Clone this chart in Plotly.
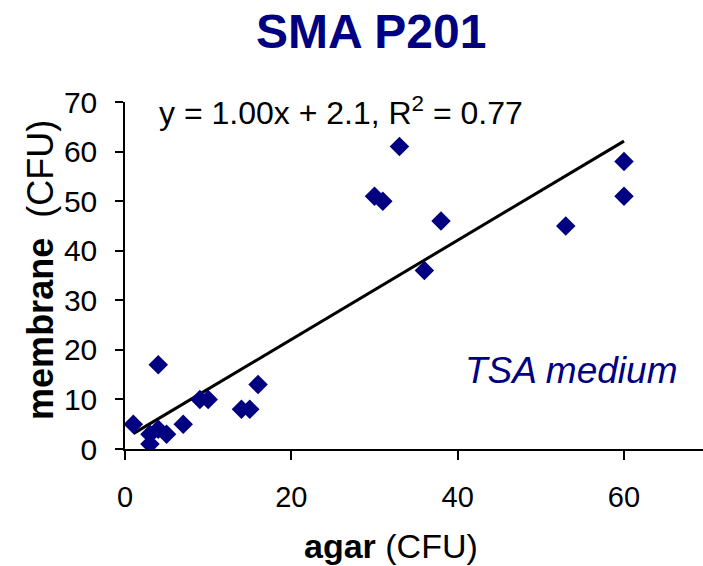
import plotly.graph_objects as go

# Colony counts on agar vs. membrane (CFU), TSA medium
agar_cfu = [1, 3, 3, 4, 5, 4, 7, 9, 10, 14, 15, 16, 30, 31, 33, 36, 38, 53, 60, 60]
membrane_cfu = [5, 1, 3, 4, 3, 17, 5, 10, 10, 8, 8, 13, 51, 50, 61, 36, 46, 45, 58, 51]

# Linear trendline as reported on the chart
slope = 1.00
intercept = 2.1
r_squared = 0.77

x_ticks = [0, 20, 40, 60]
y_ticks = [0, 10, 20, 30, 40, 50, 60, 70]

NAVY = "#000080"
FONT = "Liberation Sans, Arial, sans-serif"

x_min, x_max = min(agar_cfu), max(agar_cfu)
trend_x = [x_min, x_max]
trend_y = [slope * v + intercept for v in trend_x]

fig = go.Figure()
fig.add_trace(go.Scatter(
    x=trend_x, y=trend_y, mode="lines",
    line=dict(color="black", width=3),
    hoverinfo="skip", showlegend=False,
))
fig.add_trace(go.Scatter(
    x=agar_cfu, y=membrane_cfu, mode="markers",
    marker=dict(symbol="diamond", size=15, color=NAVY, line=dict(width=0)),
    showlegend=False,
))

fig.update_layout(
    width=703, height=566,
    margin=dict(l=125, r=0, t=102, b=117, pad=0),
    paper_bgcolor="white", plot_bgcolor="white",
    font=dict(family=FONT, color="black"),
    title=dict(
        text="<b>SMA P201</b>",
        font=dict(size=48, color=NAVY, family=FONT),
        x=0.528, xanchor="center", xref="container",
        y=0.945, yanchor="middle", yref="container",
    ),
    xaxis=dict(
        range=[0, 69.5], tickvals=x_ticks, ticktext=[str(v) for v in x_ticks],
        showgrid=False, zeroline=False,
        showline=True, linecolor="black", linewidth=1.5,
        ticks="outside", ticklen=9, tickcolor="black", tickwidth=1.5,
        tickfont=dict(size=29, family=FONT, color="black"),
        ticklabelstandoff=12,
    ),
    yaxis=dict(
        range=[0, 70], tickvals=y_ticks, ticktext=[str(v) for v in y_ticks],
        showgrid=False, zeroline=False,
        showline=True, linecolor="black", linewidth=1.5,
        ticks="outside", ticklen=8, tickcolor="black", tickwidth=1.5,
        tickfont=dict(size=30, family=FONT, color="black"),
        ticklabelstandoff=12,
    ),
    annotations=[
        dict(
            text=f"y = {slope:.2f}x + {intercept}, R<sup>2</sup> = {r_squared}",
            x=3.9, y=68.1, xref="x", yref="y",
            xanchor="left", yanchor="middle", showarrow=False,
            font=dict(size=32, family=FONT, color="black"),
        ),
        dict(
            text="<i>TSA medium</i>",
            x=40.7, y=15.9, xref="x", yref="y",
            xanchor="left", yanchor="middle", showarrow=False,
            font=dict(size=37, family=FONT, color=NAVY),
        ),
        dict(
            text="<b>agar</b> (CFU)",
            x=0.46, y=-0.279, xref="paper", yref="paper",
            xanchor="center", yanchor="middle", showarrow=False,
            font=dict(size=34, family=FONT, color="black"),
        ),
        dict(
            text="<b>membrane</b>\u00a0 (CFU)",
            x=-0.146, y=0.515, xref="paper", yref="paper",
            xanchor="center", yanchor="middle", showarrow=False, textangle=-90,
            font=dict(size=36, family=FONT, color="black"),
        ),
    ],
)

fig.write_html("out.html")
